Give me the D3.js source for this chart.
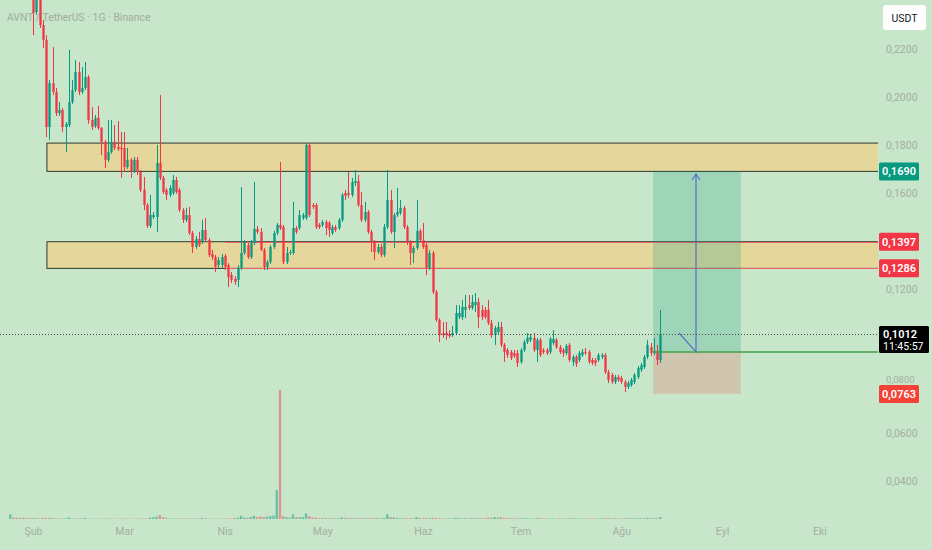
<!DOCTYPE html>
<html><head><meta charset="utf-8">
<script src="https://cdn.jsdelivr.net/npm/d3@7"></script>
<style>
html,body{margin:0;padding:0;background:#c8e6c9;}
svg{display:block;font-family:Roboto,"Noto Sans",sans-serif;}
</style></head><body>
<svg id="c" width="932" height="550"></svg>
<script>
// ---------- data ----------
const monthLabels = ["Şub","Mar","Nis","May","Haz","Tem","Ağu","Eyl","Eki"];
const monthDates = [new Date(2025,1,1),new Date(2025,2,1),new Date(2025,3,1),new Date(2025,4,1),new Date(2025,5,1),new Date(2025,6,1),new Date(2025,7,1),new Date(2025,8,1),new Date(2025,9,1)];
// 0,1000 and 0,1400 sit under the price labels in the reference, so they are not listed
const priceTicks = [0.04,0.06,0.08,0.12,0.16,0.18,0.20,0.22];
const firstDay = new Date(2025,0,25);

const open = [
.3000,.3300,.3100,.2950,.3050,.2850,.2700,
.2488,.2354,.2425,.2300,.2238,.1875,.2058,.2021,.1933,.1946,
.1875,.1883,.1979,.2029,.2104,.2021,.2038,.2083,.1904,.1879,
.1913,.1871,.1813,.1738,.1771,.1813,.1792,.1788,.1788,.1708,
.1738,.1688,.1738,.1688,.1613,.1550,.1463,.1500,.1500,.1725,
.1663,.1613,.1592,.1600,.1654,.1613,.1529,.1488,.1508,.1433,
.1375,.1408,.1396,.1446,.1404,.1346,.1333,.1300,.1300,.1338,
.1300,.1258,.1242,.1238,.1288,.1350,.1383,.1333,.1392,.1450,
.1438,.1363,.1292,.1313,.1375,.1433,.1467,.1458,.1313,.1350,
.1350,.1454,.1454,.1496,.1496,.1800,.1550,.1550,.1467,.1467,
.1479,.1475,.1433,.1458,.1454,.1488,.1600,.1600,.1592,.1642,
.1650,.1550,.1488,.1521,.1438,.1396,.1354,.1375,.1342,.1458,
.1571,.1438,.1508,.1517,.1538,.1458,.1396,.1350,.1371,.1442,
.1404,.1383,.1288,.1350,.1188,.1071,.1017,.1017,.1012,.1008,
.1017,.1083,.1083,.1113,.1133,.1121,.1133,.1146,.1113,.1113,
.1113,.1058,.1008,.1021,.1042,.0967,.0946,.0938,.0933,.0933,
.0896,.0946,.0979,.0988,.0996,.0946,.0988,.0946,.0946,.0938,
.0975,.0988,.0958,.0946,.0933,.0967,.0896,.0917,.0904,.0925,
.0938,.0938,.0904,.0904,.0904,.0917,.0925,.0854,.0842,.0813,
.0833,.0829,.0813,.0792,.0800,.0813,.0833,.0863,.0875,.0917,
.0958,.0933,.0942,.0904];
const close = [
.3300,.3100,.2950,.3050,.2850,.2700,.2550,
.2350,.2425,.2300,.2238,.1875,.2058,.2021,.1933,.1946,.1875,
.1888,.1979,.2029,.2104,.2021,.2038,.2083,.1904,.1875,.1913,
.1871,.1813,.1738,.1771,.1813,.1788,.1783,.1783,.1708,.1738,
.1688,.1738,.1688,.1613,.1550,.1463,.1508,.1508,.1725,.1663,
.1604,.1592,.1621,.1654,.1604,.1529,.1488,.1508,.1433,.1375,
.1408,.1383,.1446,.1404,.1342,.1333,.1292,.1321,.1333,.1292,
.1250,.1238,.1229,.1288,.1350,.1396,.1333,.1392,.1450,.1438,
.1363,.1292,.1313,.1375,.1433,.1467,.1454,.1313,.1350,.1354,
.1454,.1438,.1508,.1508,.1800,.1508,.1542,.1458,.1458,.1479,
.1454,.1446,.1458,.1446,.1488,.1592,.1588,.1592,.1646,.1650,
.1550,.1488,.1521,.1438,.1396,.1354,.1375,.1342,.1458,.1571,
.1438,.1508,.1521,.1538,.1458,.1396,.1350,.1371,.1442,.1404,
.1375,.1288,.1350,.1188,.1071,.1008,.1008,.1008,.1004,.1017,
.1100,.1100,.1125,.1125,.1121,.1146,.1146,.1083,.1083,.1083,
.1058,.1008,.1038,.1042,.0967,.0938,.0925,.0913,.0921,.0892,
.0946,.0979,.0996,.1000,.0946,.0988,.0925,.0938,.0933,.0992,
.0992,.0958,.0938,.0933,.0963,.0904,.0917,.0888,.0933,.0938,
.0933,.0896,.0892,.0892,.0925,.0925,.0854,.0821,.0813,.0833,
.0821,.0813,.0792,.0808,.0821,.0842,.0871,.0883,.0917,.0967,
.0933,.0942,.0904,.1012];
const high = [
.3600,.3350,.3150,.3100,.3080,.2900,.2750,
.2571,.2529,.2446,.2321,.2258,.2071,.2208,.2038,.1979,.1954,
.1896,.2196,.2071,.2154,.2146,.2125,.2146,.2092,.1958,.1925,
.1963,.1875,.1821,.1904,.1904,.1883,.1900,.1854,.1854,.1788,
.1746,.1750,.1750,.1696,.1667,.1558,.1592,.1521,.1800,.2008,
.1671,.1621,.1633,.1675,.1667,.1621,.1538,.1538,.1542,.1442,
.1421,.1438,.1488,.1496,.1413,.1363,.1342,.1333,.1346,.1346,
.1308,.1271,.1254,.1300,.1625,.1404,.1392,.1404,.1646,.1463,
.1454,.1371,.1321,.1383,.1442,.1475,.1729,.1467,.1375,.1363,
.1563,.1463,.1529,.1517,.1808,.1808,.1558,.1558,.1475,.1488,
.1488,.1483,.1467,.1467,.1496,.1600,.1613,.1688,.1663,.1696,
.1675,.1604,.1563,.1529,.1446,.1404,.1388,.1388,.1471,.1696,
.1613,.1517,.1621,.1571,.1546,.1467,.1404,.1379,.1571,.1450,
.1475,.1392,.1363,.1358,.1196,.1079,.1063,.1063,.1029,.1046,
.1133,.1133,.1154,.1175,.1175,.1175,.1183,.1163,.1133,.1125,
.1154,.1071,.1046,.1063,.1063,.0975,.0954,.0946,.0946,.0946,
.0954,.0988,.1017,.1013,.1017,.0996,.0996,.0954,.0954,.1000,
.1029,.0996,.0967,.0954,.0971,.0975,.0925,.0925,.0942,.0950,
.0954,.0946,.0913,.0913,.0933,.0933,.0933,.0863,.0850,.0842,
.0842,.0838,.0821,.0817,.0829,.0850,.0879,.0892,.0925,.0988,
.0975,.0996,.0967,.1113];
const low = [
.2900,.3000,.2900,.2900,.2800,.2650,.2500,
.2258,.2342,.2288,.2204,.1833,.1821,.2008,.1921,.1921,.1854,
.1771,.1875,.1971,.2021,.2008,.2013,.2029,.1888,.1863,.1871,
.1863,.1758,.1704,.1729,.1763,.1779,.1775,.1663,.1688,.1700,
.1663,.1683,.1675,.1604,.1529,.1454,.1454,.1492,.1438,.1654,
.1596,.1571,.1583,.1592,.1596,.1521,.1475,.1479,.1425,.1350,
.1367,.1375,.1388,.1396,.1333,.1321,.1271,.1288,.1288,.1279,
.1208,.1225,.1217,.1208,.1279,.1342,.1325,.1325,.1383,.1429,
.1358,.1279,.1279,.1304,.1367,.1425,.1446,.1304,.1304,.1342,
.1342,.1429,.1446,.1488,.1488,.1500,.1533,.1450,.1450,.1458,
.1425,.1417,.1425,.1438,.1446,.1479,.1571,.1579,.1583,.1629,
.1542,.1479,.1479,.1429,.1354,.1321,.1346,.1333,.1333,.1450,
.1429,.1371,.1500,.1508,.1450,.1383,.1300,.1308,.1363,.1396,
.1367,.1258,.1279,.1179,.1063,.0979,.0996,.0988,.0996,.1000,
.1008,.1075,.1071,.1079,.1113,.1113,.1104,.1038,.1071,.1075,
.1050,.0996,.0967,.1013,.0958,.0896,.0913,.0904,.0913,.0875,
.0888,.0938,.0971,.0979,.0938,.0896,.0917,.0929,.0925,.0929,
.0967,.0950,.0929,.0917,.0925,.0896,.0879,.0875,.0896,.0917,
.0925,.0888,.0883,.0879,.0896,.0908,.0846,.0808,.0804,.0804,
.0813,.0804,.0771,.0783,.0792,.0804,.0825,.0854,.0867,.0908,
.0921,.0925,.0883,.0892];
const volume = [
4.7,1.5,1.2,1.0,1.2,0.8,0.8,
0.8,0.6,0.5,1.0,1.2,1.0,0.8,0.6,0.5,0.6,
0.5,1.5,0.5,0.4,0.5,0.4,1.0,0.4,0.3,0.3,
0.3,0.4,0.5,0.4,0.3,0.3,0.3,0.4,0.5,0.3,
0.3,0.3,0.3,0.4,0.5,0.6,1.5,1.8,2.5,4.0,
2.0,1.2,0.6,0.5,0.4,0.6,0.5,0.4,0.8,0.6,
0.5,0.4,1.0,0.5,0.4,0.3,0.4,0.3,0.4,0.5,
0.5,0.6,1.0,1.2,3.3,1.5,1.2,2.0,3.0,2.0,
2.5,2.0,2.5,3.0,3.5,29,129,3.0,2.0,1.5,
4.7,2.0,1.8,2.0,5.7,3.0,1.5,1.2,0.8,0.8,
0.8,0.7,0.6,0.6,0.8,1.5,1.2,1.0,0.8,0.7,
0.8,0.7,0.6,0.8,1.0,1.0,0.8,0.8,1.2,4.7,
2.0,1.5,1.0,0.7,0.6,0.6,0.8,0.6,2.0,1.0,
0.8,1.0,0.8,1.2,1.0,0.8,0.6,0.6,0.5,0.5,
1.0,0.8,0.6,0.6,0.6,0.8,0.8,1.0,0.8,0.8,
1.5,1.2,2.0,1.5,2.0,1.0,0.8,0.6,0.6,0.8,
0.8,0.7,0.6,0.5,0.6,0.8,0.8,0.5,0.5,0.6,
0.6,0.5,0.5,0.5,0.6,0.7,0.6,0.5,0.5,0.5,
0.5,0.5,0.5,0.5,0.5,0.5,0.8,0.8,0.6,0.6,
0.6,0.6,0.8,0.6,0.6,0.6,0.7,0.7,0.8,1.0,
0.8,0.8,0.8,2.0];

const zoneStart = new Date(2025,1,5,7);
const zoneLow = [0.1690, 0.1286];
const zoneHigh = [0.1808, 0.1397];
const levelStart = new Date(2025,3,1,2);
const levelPrices = [0.1397, 0.1286];
const posStart = new Date(2025,7,10,19), posEnd = new Date(2025,8,6,19);
const posEntry = 0.0938, posTarget = 0.1690, posStop = 0.0763;
const arrowDates = [new Date(2025,7,18,18), new Date(2025,7,24), new Date(2025,7,24)];
const arrowPrices = [0.1017, 0.0938, 0.1679];
const lastPrice = 0.1012, countdown = "11:45:57";
const axisLabels = [
  {v:0.1690, bg:"#089981"},
  {v:0.1397, bg:"#f23645"},
  {v:0.1286, bg:"#f23645"},
  {v:0.0763, bg:"#f44336"}
];

// ---------- chart ----------
const W = 932, H = 550, plotR = 878;
const GREEN = "#089981", RED = "#f23645", TXT = "#a3aea5";
const fmt = v => d3.format(".4f")(v).replace(".", ",");
const dates = open.map((_, i) => d3.timeDay.offset(firstDay, i));
const x = d3.scaleTime().domain([new Date(2025,0,22), new Date(2025,9,19)]).range([0.5, plotR]);
const y = d3.scaleLinear().domain([0.04, 0.22]).range([481, 49]);
const yv = d3.scaleLinear().domain([0, 129]).range([519, 390]);

const svg = d3.select("#c");
svg.append("rect").attr("width", W).attr("height", H).attr("fill", "#c8e6c9");
svg.append("defs").append("clipPath").attr("id", "clip")
  .append("rect").attr("x", 0).attr("y", 0).attr("width", plotR).attr("height", 526);

const plot = svg.append("g").attr("clip-path", "url(#clip)");

// title
plot.append("text").attr("x", 7).attr("y", 21).attr("fill", "#a0aca3")
  .attr("font-size", 10.4).text("AVNT / TetherUS · 1G · Binance");

// zones
zoneLow.forEach((lo, i) => {
  plot.append("rect")
    .attr("x", x(zoneStart)).attr("y", y(zoneHigh[i]))
    .attr("width", plotR - x(zoneStart) + 2).attr("height", y(lo) - y(zoneHigh[i]))
    .attr("fill", "#e5d69b").attr("stroke", "#2f3a2c").attr("stroke-width", 1);
});
levelPrices.forEach(p => {
  plot.append("line").attr("x1", x(levelStart)).attr("x2", plotR)
    .attr("y1", Math.round(y(p)) + 0.5).attr("y2", Math.round(y(p)) + 0.5)
    .attr("stroke", "#f0636c").attr("stroke-width", 1);
});

// position tool
plot.append("rect").attr("x", x(posStart)).attr("y", y(posTarget))
  .attr("width", x(posEnd) - x(posStart)).attr("height", y(posEntry) - y(posTarget))
  .attr("fill", "#089981").attr("fill-opacity", 0.22);
plot.append("rect").attr("x", x(posStart)).attr("y", y(posEntry))
  .attr("width", x(posEnd) - x(posStart)).attr("height", y(posStop) - y(posEntry))
  .attr("fill", "#f23645").attr("fill-opacity", 0.18);

// volume
const bw = 2.3;
plot.append("g").selectAll("rect").data(dates).join("rect")
  .attr("x", (d) => x(d) - bw / 2)
  .attr("y", (d, i) => yv(volume[i]))
  .attr("width", bw)
  .attr("height", (d, i) => yv(0) - yv(volume[i]))
  .attr("fill", (d, i) => close[i] >= open[i] ? "rgba(8,153,129,0.5)" : "rgba(242,54,69,0.45)");

// candles
const cg = plot.append("g");
cg.selectAll("line").data(dates).join("line")
  .attr("x1", d => Math.round(x(d)) + 0.5).attr("x2", d => Math.round(x(d)) + 0.5)
  .attr("y1", (d, i) => y(high[i])).attr("y2", (d, i) => y(low[i]))
  .attr("stroke", (d, i) => close[i] >= open[i] ? GREEN : RED).attr("stroke-width", 1);
cg.selectAll("rect").data(dates).join("rect")
  .attr("x", d => Math.round(x(d)) + 0.5 - bw / 2)
  .attr("y", (d, i) => y(Math.max(open[i], close[i])))
  .attr("width", bw)
  .attr("height", (d, i) => Math.max(1, Math.abs(y(open[i]) - y(close[i]))))
  .attr("fill", (d, i) => close[i] >= open[i] ? GREEN : RED);

// entry line
plot.append("line").attr("x1", x(posStart)).attr("x2", plotR)
  .attr("y1", y(posEntry)).attr("y2", y(posEntry))
  .attr("stroke", "#43a047").attr("stroke-width", 1.5);

// arrow
const ap = arrowDates.map((d, i) => [x(d), y(arrowPrices[i])]);
plot.append("path").attr("d", d3.line()(ap)).attr("fill", "none")
  .attr("stroke", "#5b6dc2").attr("stroke-width", 1.2);
const tip = ap[2];
plot.append("path").attr("d", d3.line()([[tip[0] - 4, tip[1] + 6], tip, [tip[0] + 4, tip[1] + 6]]))
  .attr("fill", "none").attr("stroke", "#5b6dc2").attr("stroke-width", 1.2);

// last price dotted line
plot.append("line").attr("x1", 0).attr("x2", plotR)
  .attr("y1", Math.round(y(lastPrice)) + 0.5).attr("y2", Math.round(y(lastPrice)) + 0.5)
  .attr("stroke", "#4a4a4a").attr("stroke-width", 1).attr("stroke-dasharray", "1,2");

// bottom axis
const xAxis = d3.axisBottom(x).tickValues(monthDates).tickSize(0)
  .tickFormat((d, i) => monthLabels[i]);
const gx = svg.append("g").attr("transform", "translate(0,525)").call(xAxis);
gx.select(".domain").remove();
gx.selectAll("text").attr("fill", TXT).attr("font-size", 10.5).attr("font-family", "Roboto, sans-serif");

// right axis
const yAxis = d3.axisRight(y).tickValues(priceTicks).tickSize(0).tickFormat(fmt);
const gy = svg.append("g").attr("transform", `translate(${plotR},0)`).call(yAxis);
gy.select(".domain").remove();
gy.selectAll("text").attr("x", 8).attr("fill", TXT).attr("font-size", 10.5).attr("font-family", "Roboto, sans-serif");
// 0,0800 sits just above the stop label (half hidden in the reference)
gy.selectAll(".tick").filter(d => Math.abs(d - 0.08) < 1e-9).select("text").attr("dy", "-0.3em").attr("font-size", 9.5);

// axis price labels
axisLabels.forEach(l => {
  const cy = y(l.v);
  svg.append("rect").attr("x", plotR + 1).attr("y", cy - 9).attr("width", 40).attr("height", 18)
    .attr("rx", 1.5).attr("fill", l.bg);
  svg.append("text").attr("x", plotR + 21).attr("y", cy + 4).attr("text-anchor", "middle")
    .attr("fill", "#fff").attr("font-size", 11).attr("font-weight", 600).text(fmt(l.v));
});
{
  const cy = y(lastPrice);
  svg.append("rect").attr("x", plotR + 1).attr("y", cy - 8).attr("width", 50).attr("height", 27)
    .attr("rx", 1.5).attr("fill", "#000");
  svg.append("text").attr("x", plotR + 5).attr("y", cy + 4)
    .attr("fill", "#fff").attr("font-size", 11).attr("font-weight", 600).text(fmt(lastPrice));
  svg.append("text").attr("x", plotR + 5).attr("y", cy + 16)
    .attr("fill", "#fff").attr("font-size", 10.5).text(countdown);
}

// currency button
svg.append("rect").attr("x", 883).attr("y", 5).attr("width", 43).attr("height", 25)
  .attr("rx", 3).attr("fill", "#fff");
svg.append("text").attr("x", 904.5).attr("y", 21.5).attr("text-anchor", "middle")
  .attr("fill", "#131722").attr("font-size", 10.5).text("USDT");
</script>
</body></html>
